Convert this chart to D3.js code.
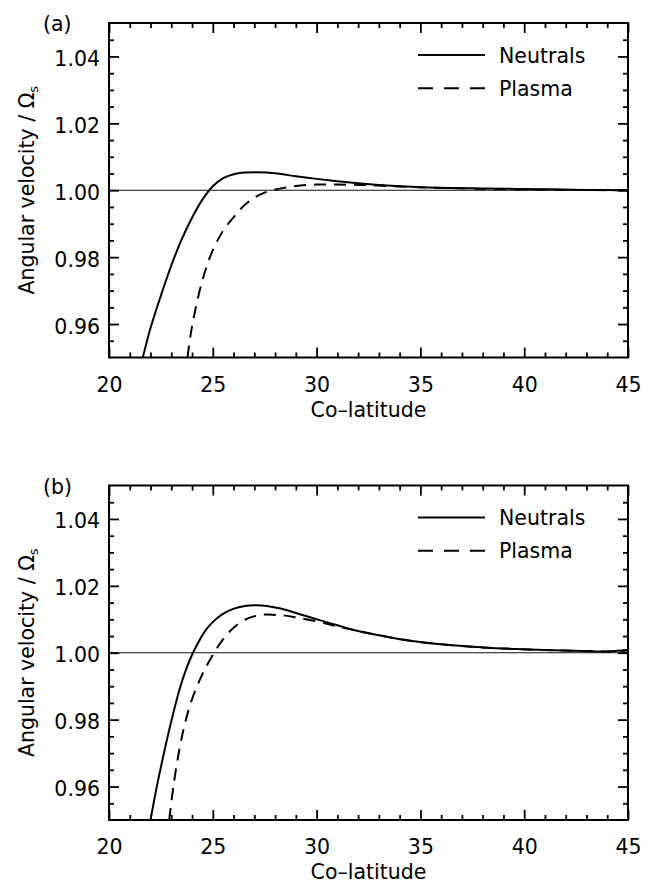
<!DOCTYPE html>
<html>
<head>
<meta charset="utf-8">
<script src="https://cdn.jsdelivr.net/npm/d3@7"></script>
<style>
  body { margin: 0; background: #fff; }
  text { font-family: "DejaVu Sans", sans-serif; fill: #000; }
</style>
</head>
<body>
<div id="container"></div>
<script>
/* CONSTANTS AND GLOBALS */
const width = 654,
      height = 884,
      left = 109,
      right = 628,
      fontSize = 20.5;

/* DATA */
const xMajor = [20, 25, 30, 35, 40, 45];
const yMajor = [0.96, 0.98, 1.00, 1.02, 1.04];
const seriesNames = ["Neutrals", "Plasma"];

// panel (a)
const aNeutralX = [21.63, 22.0, 22.5, 23.0, 23.5, 24.0, 24.5, 25.0, 25.5, 26.0, 26.5, 27.1, 27.6, 28.2, 29.0, 30.0, 31.0, 32.0, 33.0, 34.0, 35.0, 36.4, 38.0, 41.2, 43.0, 45.0];
const aNeutralY = [0.95, 0.9588, 0.9685, 0.9775, 0.9853, 0.9918, 0.9972, 1.0012, 1.0036, 1.0048, 1.0053, 1.0054, 1.0053, 1.0049, 1.0042, 1.0034, 1.0027, 1.0021, 1.0016, 1.0012, 1.0009, 1.0007, 1.0005, 1.0003, 1.0001, 1.0000];
const aPlasmaX = [23.78, 24.0, 24.5, 25.0, 25.5, 26.0, 26.5, 27.0, 27.5, 28.0, 28.5, 29.0, 30.0, 31.0, 32.0, 33.0, 34.0, 35.0, 36.0, 38.0, 40.0, 42.0, 45.0];
const aPlasmaY = [0.95, 0.9593, 0.9731, 0.9821, 0.9879, 0.9919, 0.9954, 0.9978, 0.9993, 1.0002, 1.0008, 1.0013, 1.0017, 1.0017, 1.0016, 1.0014, 1.0011, 1.0009, 1.0007, 1.0004, 1.0002, 1.0001, 1.0000];

// panel (b)
const bNeutralX = [22.0, 22.3, 22.65, 23.0, 23.4, 23.7, 24.0, 24.4, 24.7, 25.2, 25.7, 26.3, 27.0, 27.6, 28.2, 29.0, 29.8, 31.0, 32.0, 33.2, 34.5, 36.4, 38.0, 39.6, 41.0, 42.8, 44.1, 45.0];
const bNeutralY = [0.95, 0.9599, 0.9701, 0.9795, 0.9891, 0.9948, 0.9994, 1.0042, 1.0071, 1.0103, 1.0124, 1.0137, 1.0142, 1.0140, 1.0133, 1.0119, 1.0104, 1.0082, 1.0065, 1.0050, 1.0036, 1.0023, 1.0016, 1.0011, 1.0008, 1.0005, 1.0004, 1.0009];
const bPlasmaX = [22.9, 23.1, 23.4, 23.66, 24.0, 24.5, 25.0, 25.5, 26.0, 26.5, 27.0, 27.5, 28.0, 28.5, 29.0, 30.0, 31.0, 32.0, 33.2, 34.5, 36.4, 38.0, 39.6, 41.0, 42.8, 44.1, 45.0];
const bPlasmaY = [0.95, 0.96, 0.9714, 0.9789, 0.9861, 0.9936, 0.9993, 1.0041, 1.0075, 1.0097, 1.0109, 1.0114, 1.0113, 1.0111, 1.0106, 1.0094, 1.0079, 1.0065, 1.0050, 1.0036, 1.0023, 1.0016, 1.0011, 1.0008, 1.0005, 1.0004, 1.0007];

const panels = [
  {label: "(a)", top: 23, bottom: 357.5,
   neutral: aNeutralX.map((x, i) => [x, aNeutralY[i]]),
   plasma: aPlasmaX.map((x, i) => [x, aPlasmaY[i]])},
  {label: "(b)", top: 485.5, bottom: 820,
   neutral: bNeutralX.map((x, i) => [x, bNeutralY[i]]),
   plasma: bPlasmaX.map((x, i) => [x, bPlasmaY[i]])}
];

const xMinor = d3.range(20, 46, 1).filter(v => !xMajor.includes(v));
const yMinor = d3.range(0, 21).map(i => +(0.95 + i * 0.005).toFixed(3))
  .filter(v => !yMajor.some(m => Math.abs(m - v) < 1e-9) && v > 0.95 && v < 1.05);

/* HTML ELEMENTS */
const svg = d3.select("#container")
  .append("svg")
  .attr("width", width)
  .attr("height", height)
  .style("background-color", "white")

const xScale = d3.scaleLinear().domain([20, 45]).range([left, right])

panels.forEach((p, pi) => {
  const yScale = d3.scaleLinear().domain([0.95, 1.05]).range([p.bottom, p.top])
  const g = svg.append("g")

  // clip
  g.append("clipPath").attr("id", "clip" + pi)
    .append("rect")
    .attr("x", left).attr("y", p.top)
    .attr("width", right - left).attr("height", p.bottom - p.top)

  // reference line at 1.00
  g.append("line")
    .attr("x1", left).attr("x2", right)
    .attr("y1", yScale(1)).attr("y2", yScale(1))
    .attr("stroke", "#111").attr("stroke-width", 1.1)

  const line = d3.line()
    .x(d => xScale(d[0]))
    .y(d => yScale(d[1]))
    .curve(d3.curveCatmullRom.alpha(0.5))

  g.append("path")
    .attr("clip-path", `url(#clip${pi})`)
    .attr("d", line(p.neutral))
    .attr("fill", "none").attr("stroke", "#000").attr("stroke-width", 2)

  g.append("path")
    .attr("clip-path", `url(#clip${pi})`)
    .attr("d", line(p.plasma))
    .attr("fill", "none").attr("stroke", "#000").attr("stroke-width", 2)
    .attr("stroke-dasharray", "12,8")

  // axes: ticks pointing inward, on all four sides
  const styleAxis = sel => {
    sel.select(".domain").remove()
    sel.selectAll(".tick line").attr("stroke", "#000").attr("stroke-width", 1.8)
  }
  const addAxis = (axis, tx, ty) => g.append("g")
    .attr("transform", `translate(${tx},${ty})`)
    .call(axis).call(styleAxis)

  const bottomAx = addAxis(d3.axisBottom(xScale).tickValues(xMajor).tickSize(-10).tickFormat(d3.format("d")), 0, p.bottom)
  bottomAx.selectAll("text").attr("y", 34).attr("dy", null)
    .style("font-size", fontSize + "px").style("font-family", "DejaVu Sans")
  addAxis(d3.axisBottom(xScale).tickValues(xMinor).tickSize(-5).tickFormat(""), 0, p.bottom)
  addAxis(d3.axisTop(xScale).tickValues(xMajor).tickSize(-10).tickFormat(""), 0, p.top)
  addAxis(d3.axisTop(xScale).tickValues(xMinor).tickSize(-5).tickFormat(""), 0, p.top)

  const leftAx = addAxis(d3.axisLeft(yScale).tickValues(yMajor).tickSize(-10).tickFormat(d3.format(".2f")), left, 0)
  leftAx.selectAll("text").attr("x", -9).attr("y", 9).attr("dy", null)
    .style("font-size", fontSize + "px").style("font-family", "DejaVu Sans")
  addAxis(d3.axisLeft(yScale).tickValues(yMinor).tickSize(-5).tickFormat(""), left, 0)
  addAxis(d3.axisRight(yScale).tickValues(yMajor).tickSize(-10).tickFormat(""), right, 0)
  addAxis(d3.axisRight(yScale).tickValues(yMinor).tickSize(-5).tickFormat(""), right, 0)

  // frame
  g.append("rect")
    .attr("x", left).attr("y", p.top)
    .attr("width", right - left).attr("height", p.bottom - p.top)
    .attr("fill", "none").attr("stroke", "#000").attr("stroke-width", 2)

  // titles
  g.append("text")
    .attr("x", (left + right) / 2).attr("y", p.bottom + 59)
    .attr("text-anchor", "middle")
    .style("font-size", fontSize + "px")
    .text("Co\u2013latitude")

  const yt = g.append("text")
    .attr("transform", `translate(34,${(p.top + p.bottom) / 2}) rotate(-90)`)
    .attr("text-anchor", "middle")
    .style("font-size", fontSize + "px")
  yt.append("tspan").text("Angular velocity / \u03A9")
  yt.append("tspan").attr("dy", 4).style("font-size", "13px").text("s")

  g.append("text")
    .attr("x", 43).attr("y", p.top + 8)
    .style("font-size", fontSize + "px")
    .text(p.label)

  // legend
  const legY = [p.top + 32, p.top + 65.3]
  seriesNames.forEach((name, i) => {
    g.append("line")
      .attr("x1", 418).attr("x2", 485)
      .attr("y1", legY[i]).attr("y2", legY[i])
      .attr("stroke", "#000").attr("stroke-width", 2)
      .attr("stroke-dasharray", i === 1 ? "15,11" : null)
    g.append("text")
      .attr("x", 499).attr("y", legY[i] + 7.5)
      .style("font-size", fontSize + "px")
      .text(name)
  })
})
</script>
</body>
</html>
